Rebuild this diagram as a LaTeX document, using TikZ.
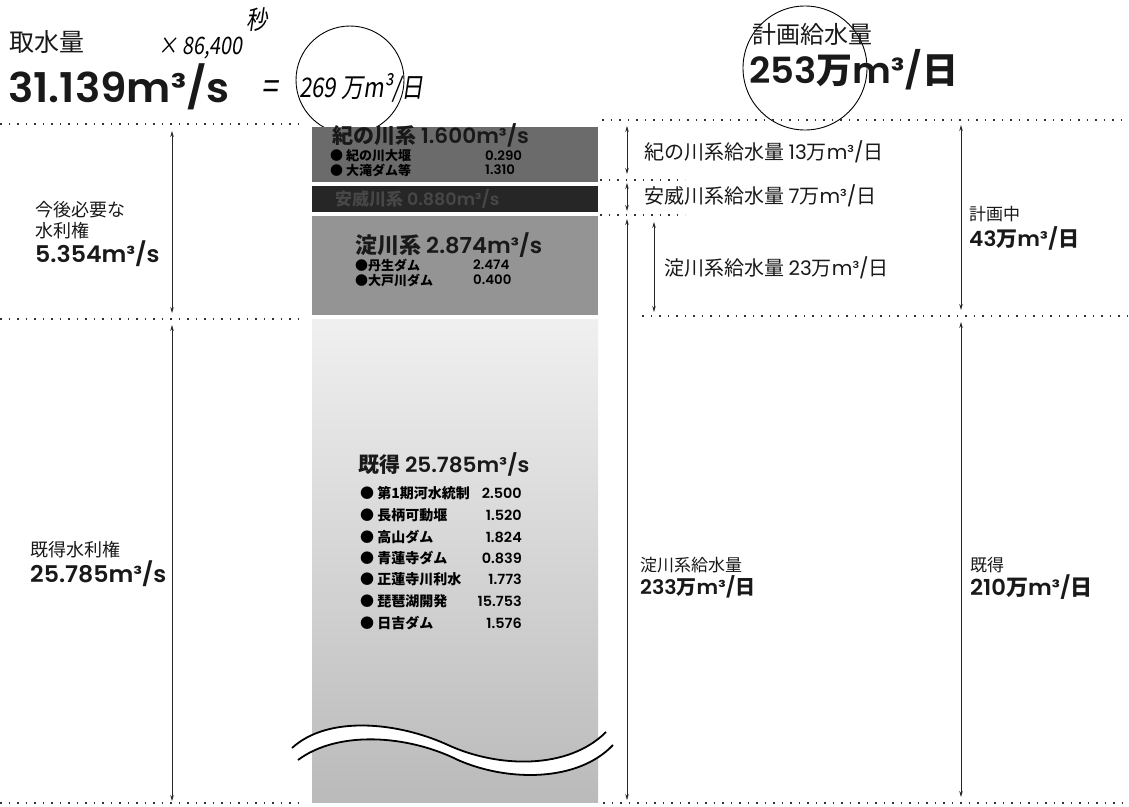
\documentclass[tikz,border=0pt]{standalone}
\usepackage{fontspec}
\setmainfont{Noto Sans CJK JP}
\newfontfamily\popm[FakeStretch=1.03]{Poppins SemiBold}
\newfontfamily\popr{Poppins}
\newfontfamily\hand[FakeSlant=0.15,FakeStretch=0.82]{Noto Sans CJK JP}
\newcommand\nb[1]{{\popm\mdseries #1}}
\newcommand\nr[1]{{\popr\mdseries #1}}
\usetikzlibrary{arrows.meta}
\tikzset{
  dotline/.style={line width=1.7pt, dash pattern=on 1.7pt off 6.8pt, black!80},
  dim/.style={{Stealth[length=6pt,width=3.5pt]}-{Stealth[length=6pt,width=3.5pt]}, line width=0.8pt, black!85},
  lbl/.style={anchor=west, inner sep=0pt, text=black!90},
  sz/.style={font=\fontsize{#1}{#1}\selectfont},
  big/.style={font=\bfseries\fontsize{#1}{#1}\selectfont},
  hw/.style={anchor=west, inner sep=0pt, font=\hand\fontsize{#1}{#1}\selectfont},
  item/.style={anchor=west, inner sep=0pt, font=\bfseries\fontsize{13}{13}\selectfont},
  ring/.style={circle, draw, line width=0.9pt, inner sep=0pt}
}
\begin{document}
\begin{tikzpicture}[x=1pt,y=-1pt]
\useasboundingbox (0,0) rectangle (1129,806);
\fill[white] (0,0) rectangle (1129,806);

% handwritten circles (drawn first, bars cover them)
\node[ring, minimum size=108pt] (c1) at (350,80) {};
\node[ring, minimum size=124pt] (c2) at (805,68) {};

% ---- bars ----
\fill[black!58] (312,127) rectangle (598,182);
\fill[black!85] (312,186) rectangle (598,212);
\fill[black!42] (312,216) rectangle (598,315);
\shade[top color=black!6, bottom color=black!27] (312,319) rectangle (598,802);

% wave break
\fill[white] (292,748) .. controls (328,715) and (398,722) .. (448,745) .. controls (498,768) and (568,770) .. (606,732)
  -- (613,745) .. controls (578,782) and (508,782) .. (458,760) .. controls (408,735) and (338,730) .. (298,760) -- cycle;
\draw[line width=1.8pt] (292,748) .. controls (328,715) and (398,722) .. (448,745) .. controls (498,768) and (568,770) .. (606,732);
\draw[line width=1.8pt] (298,760) .. controls (338,730) and (408,735) .. (458,760) .. controls (508,782) and (578,782) .. (613,745);

% ---- dotted lines ----
\coordinate (dl1a) at (0,124);   \coordinate (dl1b) at (298,124);
\coordinate (dl2a) at (0,319);   \coordinate (dl2b) at (298,319);
\coordinate (dl3a) at (0,803);   \coordinate (dl3b) at (298,803);
\coordinate (dr1a) at (602,120); \coordinate (dr1b) at (1129,120);
\coordinate (dr2a) at (600,180); \coordinate (dr2b) at (685,180);
\coordinate (dr3a) at (600,215); \coordinate (dr3b) at (685,215);
\coordinate (dr4a) at (642,316); \coordinate (dr4b) at (1129,316);
\coordinate (dr5a) at (603,803); \coordinate (dr5b) at (1129,803);
\foreach \p in {dl1,dl2,dl3,dr1,dr2,dr3,dr4,dr5} \draw[dotline] (\p a) -- (\p b);

% ---- dimension arrows ----
\coordinate (la1) at (172,131); \coordinate (lb1) at (172,313);
\coordinate (la2) at (172,325); \coordinate (lb2) at (172,801);
\coordinate (ra1) at (627,126); \coordinate (rb1) at (627,174);
\coordinate (ra2) at (627,183); \coordinate (rb2) at (627,211);
\coordinate (ra3) at (627,219); \coordinate (rb3) at (627,800);
\coordinate (ra4) at (654,222); \coordinate (rb4) at (654,312);
\coordinate (ra5) at (961,125); \coordinate (rb5) at (961,310);
\coordinate (ra6) at (961,322); \coordinate (rb6) at (961,797);
\draw[dim] (la1) -- (lb1);
\draw[dim] (la2) -- (lb2);
\draw[dim] (ra1) -- (rb1);
\draw[dim] (ra2) -- (rb2);
\draw[dim] (ra3) -- (rb3);
\draw[dim] (ra4) -- (rb4);
\draw[dim] (ra5) -- (rb5);
\draw[dim] (ra6) -- (rb6);

% ---- headings ----
\node[lbl, sz=25] (intake) at (9,42) {取水量};
\node[lbl, big=41] (intakev) at (8,87) {\nb{31.139m³/s}};
\node[lbl, sz=24] (plan) at (752,34) {計画給水量};
\node[lbl, big=36] (planv) at (749,70) {\nb{253}万\nb{m³/}日};

% handwritten notes
\node[hw=24] (mul) at (158,48) {× 86,400};
\node[hw=26] (sec) at (246,20) {秒};
\node[hw=36] (eq) at (261,90) {=};
\node[hw=27] (res) at (299,88) {269 万m³/日};

% ---- left labels ----
\node[lbl, sz=18] (fut1) at (35,210) {今後必要な};
\node[lbl, sz=18] (fut2) at (35,231) {水利権};
\node[lbl, big=23] (futv) at (35,254) {\nb{5.354m³/s}};
\node[lbl, sz=18] (ex1) at (30,550) {既得水利権};
\node[lbl, big=23] (exv) at (30,574) {\nb{25.785m³/s}};

% ---- bar texts ----
\node[lbl, font=\bfseries\fontsize{21}{21}\selectfont] (kino) at (332,135) {紀の川系 \nb{1.600m³/s}};
\node[item] (kino1) at (330,156) {● 紀の川大堰};
\node[item] (kino1v) at (485,156) {\nb{0.290}};
\node[item] (kino2) at (330,170) {● 大滝ダム等};
\node[item] (kino2v) at (485,170) {\nb{1.310}};
\node[lbl, text=black!72, font=\bfseries\fontsize{17}{17}\selectfont] (awa) at (335,199) {安威川系 \nb{0.880m³/s}};

\node[lbl, font=\bfseries\fontsize{22}{22}\selectfont] (yodo) at (355,245) {淀川系 \nb{2.874m³/s}};
\node[item] (yodo1) at (355,265) {●丹生ダム};
\node[item] (yodo1v) at (473,265) {\nb{2.474}};
\node[item] (yodo2) at (355,280) {●大戸川ダム};
\node[item] (yodo2v) at (473,280) {\nb{0.400}};

\node[lbl, font=\bfseries\fontsize{21}{21}\selectfont] (kit) at (358,464) {既得 \nb{25.785m³/s}};
\foreach \n/\t/\v/\yy in {a/第1期河水統制/2.500/493, b/長柄可動堰/1.520/515, c/高山ダム/1.824/537, d/青蓮寺ダム/0.839/558, e/正蓮寺川利水/1.773/579, f/琵琶湖開発/15.753/601, g/日吉ダム/1.576/623}{
  \node[item, font=\bfseries\fontsize{14}{14}\selectfont] (k\n) at (360,\yy) {● \t};
  \node[item, anchor=east, font=\fontsize{14}{14}\selectfont] (k\n v) at (522,\yy) {\nb{\v}};
}

% ---- right labels ----
\node[lbl, sz=20] (s1) at (644,152) {紀の川系給水量 \nr{13}万\nr{m³/}日};
\node[lbl, sz=20] (s2) at (644,196) {安威川系給水量 \nr{7}万\nr{m³/}日};
\node[lbl, sz=20] (s3) at (664,268) {淀川系給水量 \nr{23}万\nr{m³/}日};
\node[lbl, sz=17] (pl1) at (969,214) {計画中};
\node[lbl, big=21] (pl2) at (969,238) {\nb{43}万\nb{m³/}日};
\node[lbl, sz=17] (y1) at (640,565) {淀川系給水量};
\node[lbl, big=20] (y2) at (640,587) {\nb{233}万\nb{m³/}日};
\node[lbl, sz=17] (e1) at (970,565) {既得};
\node[lbl, big=22] (e2) at (970,587) {\nb{210}万\nb{m³/}日};
\end{tikzpicture}
\end{document}
